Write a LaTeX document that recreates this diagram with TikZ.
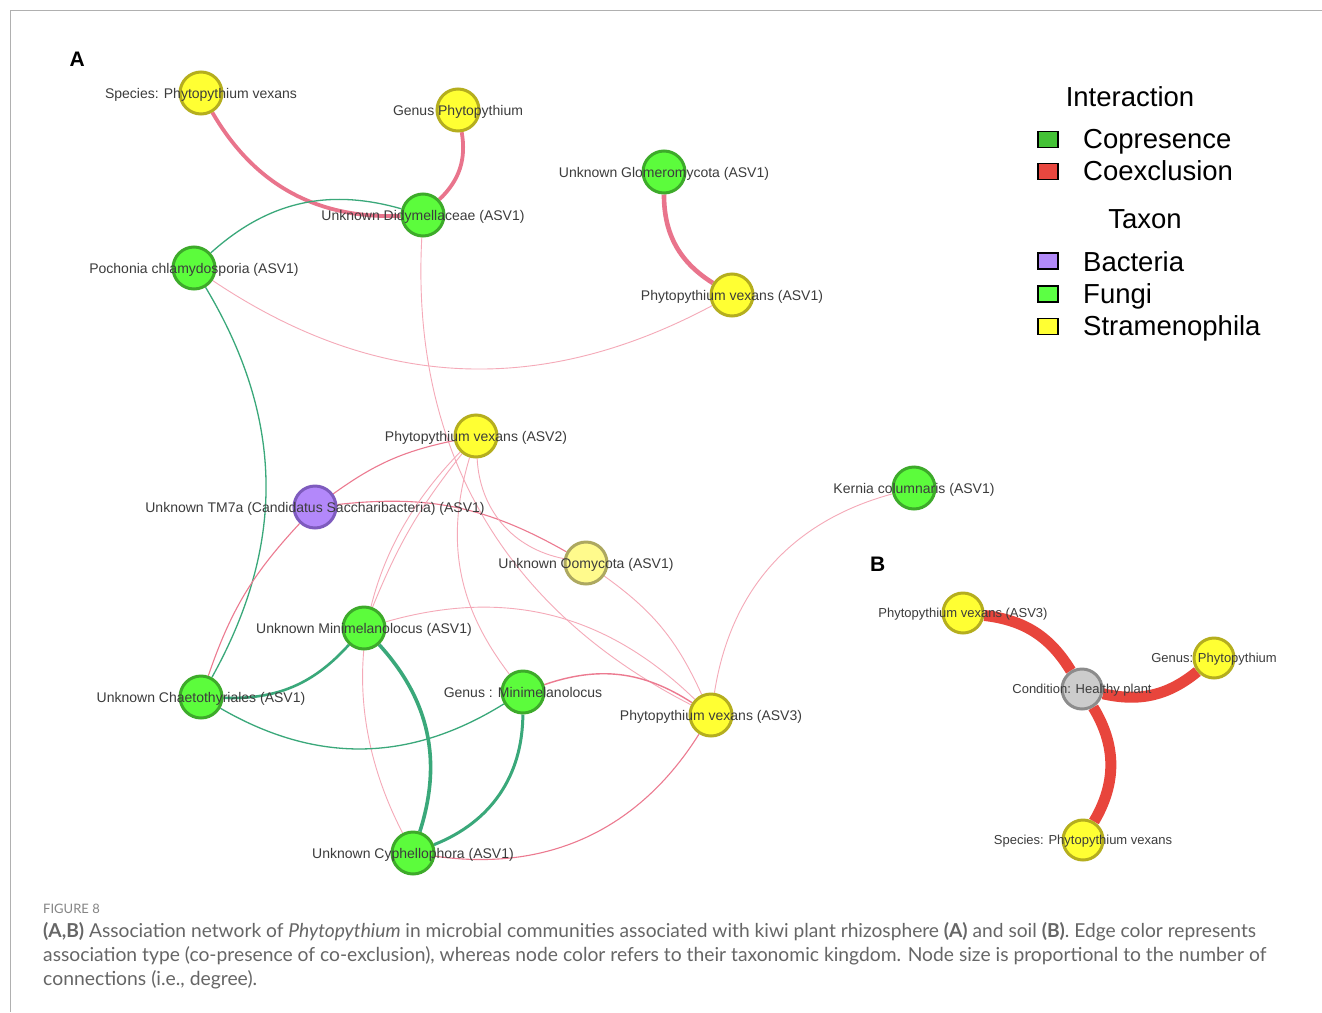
\documentclass[tikz,border=0pt]{standalone}
\usepackage{fontspec}
\setmainfont{Liberation Sans}
\newfontfamily\capfont{Lato}
\usetikzlibrary{backgrounds}
\definecolor{yfill}{HTML}{FFFF33}
\definecolor{ydraw}{HTML}{B5AE1E}
\definecolor{gfill}{HTML}{5CFC3C}
\definecolor{gdraw}{HTML}{3DAA2A}
\definecolor{pfill}{HTML}{B388FA}
\definecolor{pdraw}{HTML}{7E5BBE}
\definecolor{ofill}{HTML}{FFFA8C}
\definecolor{odraw}{HTML}{ADA860}
\definecolor{cfill}{HTML}{CCCCCC}
\definecolor{cdraw}{HTML}{8C8C8C}
\definecolor{pinkthick}{HTML}{E9748C}
\definecolor{pinklight}{HTML}{F5A9B8}
\definecolor{pinkmed}{HTML}{EC7A90}
\definecolor{greenedge}{HTML}{3AA87A}
\definecolor{redB}{HTML}{E8453C}
\definecolor{labgray}{HTML}{3C3C3C}
\definecolor{capgray}{HTML}{666666}
\definecolor{legcop}{HTML}{44C236}
\definecolor{legcoex}{HTML}{E8473F}
\definecolor{legbac}{HTML}{B28AF8}
\definecolor{legfun}{HTML}{5CFF44}
\definecolor{legstr}{HTML}{FFFF33}
\definecolor{framegray}{HTML}{B0B0B0}
\begin{document}
\begin{tikzpicture}[x=1pt,y=1pt,
  vnode/.style={circle, minimum size=42pt, inner sep=0pt, line width=3pt},
  bnode/.style={circle, minimum size=40pt, inner sep=0pt, line width=3pt},
  yel/.style={vnode, fill=yfill, draw=ydraw},
  grn/.style={vnode, fill=gfill, draw=gdraw},
  pur/.style={vnode, fill=pfill, draw=pdraw},
  lye/.style={vnode, fill=ofill, draw=odraw},
  byel/.style={bnode, fill=yfill, draw=ydraw},
  bgry/.style={bnode, fill=cfill, draw=cdraw},
  lbl/.style={anchor=base, inner sep=0pt, text=labgray, yshift=-5pt, font=\fontsize{14}{16}\selectfont},
  blbl/.style={anchor=base, inner sep=0pt, text=labgray, yshift=-4.5pt, font=\fontsize{13}{15}\selectfont},
  pthick/.style={draw=pinkthick, line width=3.8pt},
  plight/.style={draw=pinklight, line width=0.9pt},
  pmed/.style={draw=pinkmed, line width=1.1pt},
  gthin/.style={draw=greenedge, line width=1.3pt},
  gmid/.style={draw=greenedge, line width=2.6pt},
  gthick/.style={draw=greenedge, line width=3.6pt},
  redthick/.style={draw=redB, line width=11pt},
  lgbox/.style={draw=black, line width=1.2pt, minimum width=20pt, minimum height=16pt, inner sep=0pt},
  lgtext/.style={anchor=base west, inner sep=0pt, font=\fontsize{27.5}{30}\selectfont},
  lgtitle/.style={anchor=base, inner sep=0pt, font=\fontsize{27.5}{30}\selectfont},
  panel/.style={anchor=base west, inner sep=0pt, font=\fontsize{21}{24}\selectfont\bfseries},
  capline/.style={anchor=base west, inner sep=0pt, text=capgray, font=\capfont\fontsize{16}{20}\selectfont}
]
\useasboundingbox (0,0) rectangle (1322,-1012);

% ---- nodes, panel A
\node[yel] (sp)    at (201,-93)  {};
\node[yel] (gp)    at (458,-110) {};
\node[grn] (did)   at (423,-215) {};
\node[grn] (poch)  at (194,-268) {};
\node[grn] (glom)  at (664,-172) {};
\node[yel] (pv1)   at (732,-295) {};
\node[yel] (pv2)   at (476,-436) {};
\node[pur] (tm7)   at (315,-507) {};
\node[lye] (oomy)  at (586,-563) {};
\node[grn] (kern)  at (914,-488) {};
\node[grn] (mini)  at (364,-628) {};
\node[grn] (chaet) at (201,-697) {};
\node[grn] (genm)  at (523,-692) {};
\node[yel] (pv3)   at (711,-715) {};
\node[grn] (cyph)  at (413,-853) {};
% ---- nodes, panel B
\node[byel] (bpv)  at (963,-613)  {};
\node[byel] (bgp)  at (1214,-658) {};
\node[bgry] (cond) at (1082,-689) {};
\node[byel] (bsp)  at (1083,-840) {};

\begin{scope}[on background layer]
  \fill[white] (0,0) rectangle (1322,-1012);
  \draw[framegray, line width=1.2pt] (10.5,-1012) -- (10.5,-10.5) -- (1322,-10.5);
  % panel A edges
  \draw[pthick] (sp) to[bend right=31] (did);
  \draw[pthick] (did) to[bend right=28] (gp);
  \draw[pthick, line width=4.6pt] (glom) to[bend right=29] (pv1);
  \draw[gthin] (poch) to[bend left=29] (did);
  \draw[plight] (poch) to[bend right=31] (pv1);
  \draw[gthin] (poch) to[bend left=30] (chaet);
  \draw[plight] (did) to[bend right=33] (pv3);
  \draw[pmed] (tm7) to[bend left=12] (pv2);
  \draw[pmed] (tm7) to[bend right=12] (chaet);
  \draw[pmed] (tm7) to[bend left=18] (oomy);
  \draw[plight] (pv2) to[bend right=38] (oomy);
  \draw[plight] (pv2) to[bend right=27] (genm);
  \draw[plight] (pv2) to[bend right=8] (mini);
  \draw[plight] (pv2) to[bend right=36] (cyph);
  \draw[plight] (mini) to[bend left=30] (pv3);
  \draw[gmid] (mini) to[bend left=25] (chaet);
  \draw[gthick] (mini) to[bend left=30] (cyph);
  \draw[gthin] (chaet) to[bend right=31] (genm);
  \draw[gthick, line width=3pt] (genm) to[bend left=34] (cyph);
  \draw[pmed, line width=1.4pt] (genm) to[bend left=26] (pv3);
  \draw[pmed] (cyph) to[bend right=33] (pv3);
  \draw[plight] (kern) to[bend right=33] (pv3);
  \draw[plight] (oomy) to[bend left=15] (pv3);
  % panel B edges
  \draw[redthick] (cond) to[bend right=26] (bpv);
  \draw[redthick] (cond) to[bend right=26] (bgp);
  \draw[redthick] (cond) to[bend left=31] (bsp);
\end{scope}

% ---- node labels
\node[lbl] (sp-t)    at (sp)    {Species: Phytopythium vexans};
\node[lbl] (gp-t)    at (gp)    {Genus Phytopythium};
\node[lbl] (did-t)   at (did)   {Unknown Didymellaceae (ASV1)};
\node[lbl] (poch-t)  at (poch)  {Pochonia chlamydosporia (ASV1)};
\node[lbl] (glom-t)  at (glom)  {Unknown Glomeromycota (ASV1)};
\node[lbl] (pv1-t)   at (pv1)   {Phytopythium vexans (ASV1)};
\node[lbl] (pv2-t)   at (pv2)   {Phytopythium vexans (ASV2)};
\node[lbl] (tm7-t)   at (tm7)   {Unknown TM7a (Candidatus Saccharibacteria) (ASV1)};
\node[lbl] (oomy-t)  at (oomy)  {Unknown Oomycota (ASV1)};
\node[lbl] (kern-t)  at (kern)  {Kernia columnaris (ASV1)};
\node[lbl] (mini-t)  at (mini)  {Unknown Minimelanolocus (ASV1)};
\node[lbl] (chaet-t) at (chaet) {Unknown Chaetothyriales (ASV1)};
\node[lbl] (genm-t)  at (genm)  {Genus : Minimelanolocus};
\node[lbl] (pv3-t)   at (pv3)   {Phytopythium vexans (ASV3)};
\node[lbl] (cyph-t)  at (cyph)  {Unknown Cyphellophora (ASV1)};
\node[blbl] (bpv-t)  at (bpv)   {Phytopythium vexans (ASV3)};
\node[blbl] (bgp-t)  at (bgp)   {Genus: Phytopythium};
\node[blbl] (cond-t) at (cond)  {Condition: Healthy plant};
\node[blbl] (bsp-t)  at (bsp)   {Species: Phytopythium vexans};

% ---- panel letters
\node[panel] (pA) at (69.5,-66) {A};
\node[panel] (pB) at (870,-571) {B};

% ---- legend
\node[lgtitle] (lg-int) at (1130,-106) {Interaction};
\node[lgbox, fill=legcop]  (lg-b1) at (1048,-139.5) {};
\node[lgtext] (lg-t1) at (1083,-148) {Copresence};
\node[lgbox, fill=legcoex] (lg-b2) at (1048,-171.5) {};
\node[lgtext] (lg-t2) at (1083,-180) {Coexclusion};
\node[lgtitle] (lg-tax) at (1145,-228) {Taxon};
\node[lgbox, fill=legbac]  (lg-b3) at (1048,-261) {};
\node[lgtext] (lg-t3) at (1083,-271) {Bacteria};
\node[lgbox, fill=legfun]  (lg-b4) at (1048,-294) {};
\node[lgtext] (lg-t4) at (1083,-303) {Fungi};
\node[lgbox, fill=legstr]  (lg-b5) at (1048,-326.5) {};
\node[lgtext] (lg-t5) at (1083,-335) {Stramenophila};

% ---- caption
\node[capline, font=\capfont\fontsize{13}{15}\selectfont, text=capgray!80] (cap0) at (43,-913) {FIGURE 8};
\node[capline] (cap1) at (43,-937) {\resizebox{1213pt}{!}{\textbf{(A,B)} Association network of \textit{Phytopythium} in microbial communities associated with kiwi plant rhizosphere \textbf{(A)} and soil \textbf{(B)}. Edge color represents}};
\node[capline] (cap2) at (43,-961) {\resizebox{1223pt}{!}{association type (co-presence of co-exclusion), whereas node color refers to their taxonomic kingdom. Node size is proportional to the number of}};
\node[capline] (cap3) at (43,-985) {\resizebox{214pt}{!}{connections (i.e., degree).}};
\end{tikzpicture}
\end{document}
